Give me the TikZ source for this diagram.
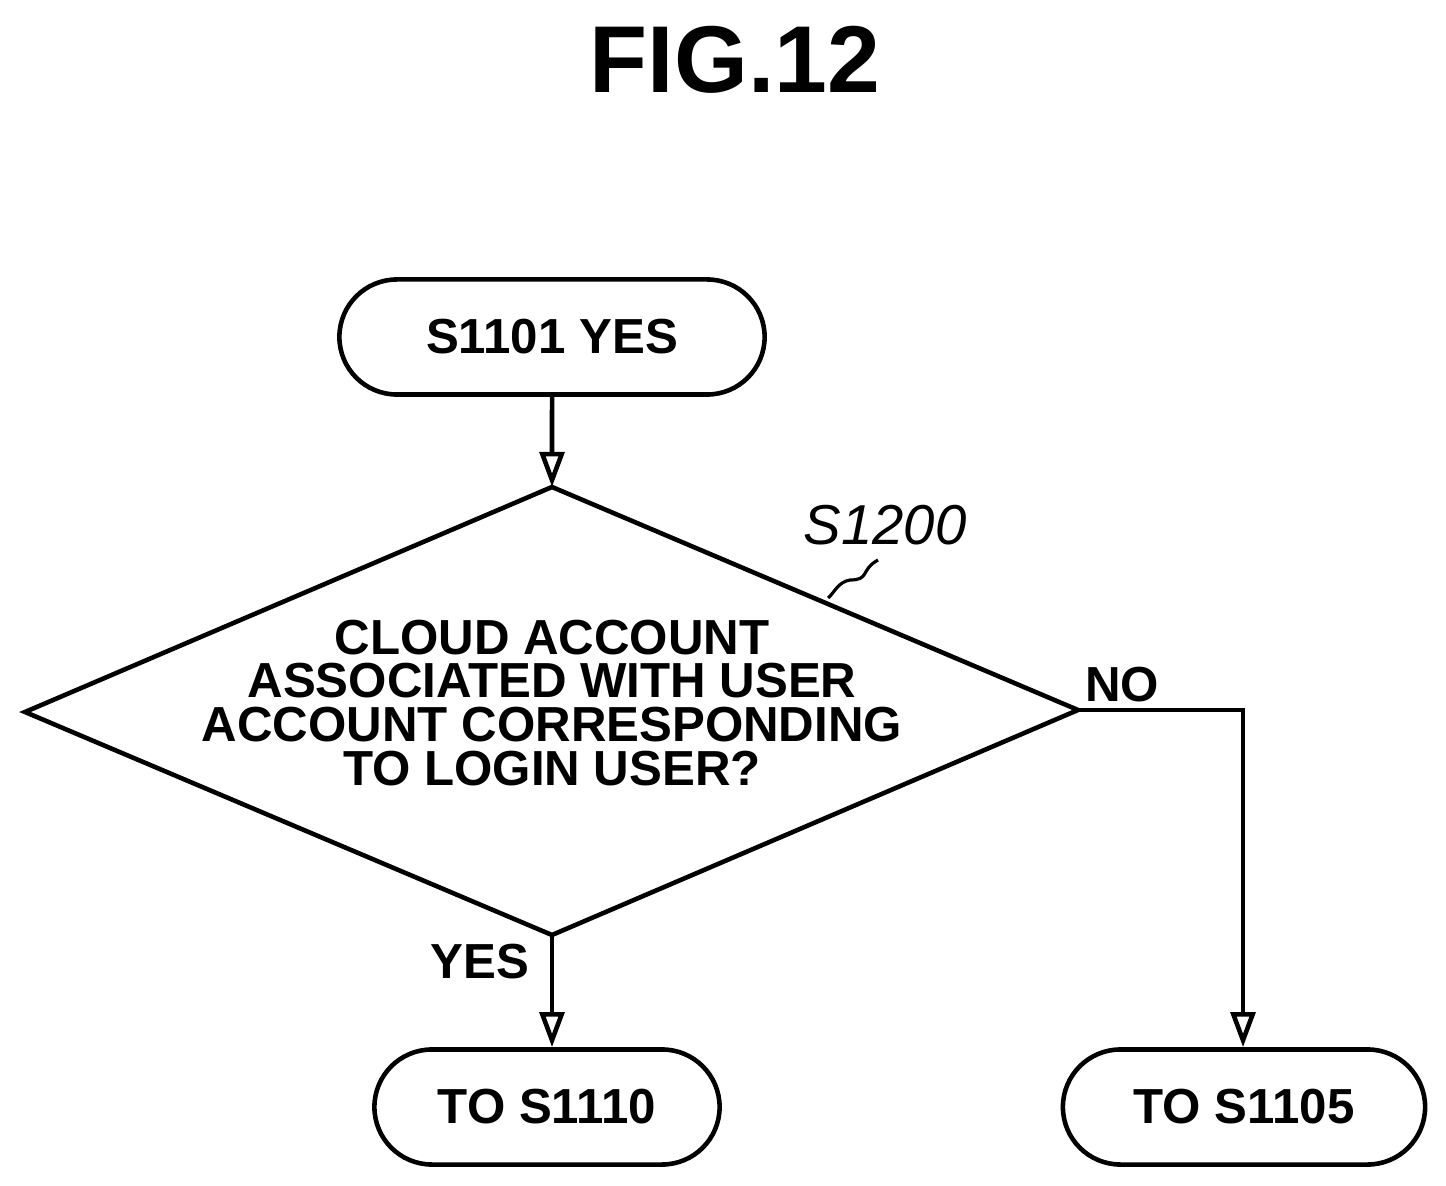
\documentclass[tikz,border=0pt]{standalone}
\usepackage{fontspec}
\setmainfont{Liberation Sans}
\usetikzlibrary{arrows.meta,shapes.geometric,shapes.misc}
\begin{document}
\begin{tikzpicture}[x=0.01cm,y=-0.01cm,
  line/.style={line width=1.3pt},
  arr/.style={line, -{Triangle[length=10pt,width=7pt,open]}},
  term/.style={line, draw, rounded rectangle, inner sep=0pt},
  txt/.style={font=\fontsize{14}{17}\selectfont\bfseries, align=center}]
\useasboundingbox (0,0) rectangle (1446,1186);
\node[font=\fontsize{27}{32}\selectfont\bfseries] (title) at (735,60) {FIG.12};
\node[term, minimum width=4.25cm, minimum height=1.15cm, txt] (start) at (552,337) {S1101 YES};
\node[term, minimum width=3.45cm, minimum height=1.15cm, txt] (t1) at (547,1107) {TO S1110};
\node[term, minimum width=3.62cm, minimum height=1.15cm, txt] (t2) at (1244,1107) {TO S1105};
\coordinate (dt) at (552,487);
\coordinate (dl) at (25,712);
\coordinate (dr) at (1078,710);
\coordinate (db) at (552,935);
\draw[line] (dt) -- (dr) -- (db) -- (dl) -- cycle;
\node[txt, font=\fontsize{14}{12.5}\selectfont\bfseries] (q) at (552,703) {CLOUD ACCOUNT\\ASSOCIATED WITH USER\\ACCOUNT CORRESPONDING\\TO LOGIN USER?};
\draw[arr] (start) -- (dt);
\draw[arr] (db) -- (db |- t1.north);
\coordinate (c) at (1243,710);
\draw[arr] (dr) -- (c) -- (t2.north -| c);
\node[txt] (no) at (1122,685) {NO};
\node[txt] (yes) at (480,962) {YES};
\node[font=\fontsize{16}{19}\selectfont\itshape] (lab) at (885,525) {S1200};
\draw[line width=0.9pt] (878,560) .. controls (860,570) and (870,580) .. (850,580) .. controls (838,582) and (835,592) .. (828,598);
\end{tikzpicture}
\end{document}
